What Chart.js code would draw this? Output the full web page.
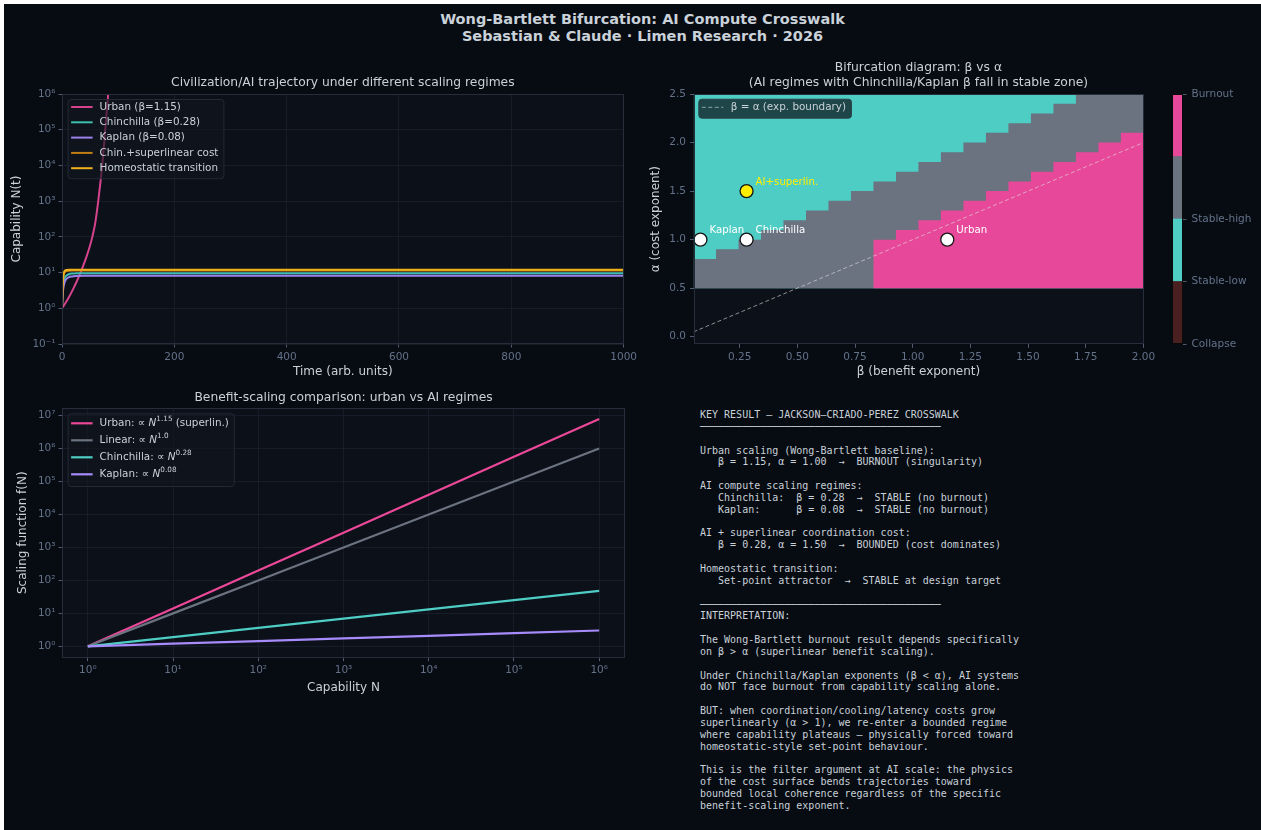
<!DOCTYPE html>
<html>
<head>
<meta charset="utf-8">
<title>Wong-Bartlett Bifurcation: AI Compute Crosswalk</title>
<script src="https://cdn.jsdelivr.net/npm/chart.js@4.4.1/dist/chart.umd.min.js"></script>
<style>
  html, body { margin: 0; padding: 0; background: #ffffff; }
  #fig { position: absolute; left: 4px; top: 4px; right: 0; bottom: 0; width: 1257px; height: 826px; background: #070b12; }
  .box { position: absolute; }
  #suptitle {
    position: absolute; left: 342.5px; top: 11px; width: 600px;
    text-align: center; font: bold 14.5px/17px "DejaVu Sans", sans-serif; color: #c9d1d9;
  }
  #notes {
    position: absolute; left: 700px; top: 409px; margin: 0;
    font: 10px/11.85px "DejaVu Sans Mono", monospace; color: #c9d1d9;
  }
</style>
</head>
<body>
<div id="fig"></div>
<div id="suptitle">Wong-Bartlett Bifurcation: AI Compute Crosswalk<br>Sebastian &amp; Claude · Limen Research · 2026</div>

<div class="box" style="left:0;top:60px;width:640px;height:330px"><canvas id="trajChart"></canvas></div>
<div class="box" style="left:640px;top:55px;width:520px;height:335px"><canvas id="bifChart"></canvas></div>
<div class="box" style="left:1160px;top:55px;width:101px;height:335px"><canvas id="cbarChart"></canvas></div>
<div class="box" style="left:0;top:380px;width:640px;height:324px"><canvas id="scaleChart"></canvas></div>

<pre id="notes">KEY RESULT — JACKSON—CRIADO-PEREZ CROSSWALK
────────────────────────────────────────

Urban scaling (Wong-Bartlett baseline):
   β = 1.15, α = 1.00  →  BURNOUT (singularity)

AI compute scaling regimes:
   Chinchilla:  β = 0.28  →  STABLE (no burnout)
   Kaplan:      β = 0.08  →  STABLE (no burnout)

AI + superlinear coordination cost:
   β = 0.28, α = 1.50  →  BOUNDED (cost dominates)

Homeostatic transition:
   Set-point attractor  →  STABLE at design target

────────────────────────────────────────
INTERPRETATION:

The Wong-Bartlett burnout result depends specifically
on β &gt; α (superlinear benefit scaling).

Under Chinchilla/Kaplan exponents (β &lt; α), AI systems
do NOT face burnout from capability scaling alone.

BUT: when coordination/cooling/latency costs grow
superlinearly (α &gt; 1), we re-enter a bounded regime
where capability plateaus — physically forced toward
homeostatic-style set-point behaviour.

This is the filter argument at AI scale: the physics
of the cost surface bends trajectories toward
bounded local coherence regardless of the specific
benefit-scaling exponent.</pre>

<script>
// ---------- trajectories N(t) ----------
const urbanT = [0, 10, 20, 27, 33, 38, 44, 49, 54, 59, 64.5, 68, 71.6, 74.5, 77, 79.5, 82.3, 84];
const urbanN = [1, 1.76, 3.5, 6.0, 10, 16, 29, 51, 100, 234, 1000, 2950, 10000, 33000, 100000, 300000, 1000000, 2200000];
const fastT = [0, 1, 2, 3, 5, 8, 12, 18, 25, 40, 100, 1000];
const chinchillaN = [1, 2.8, 4.4, 5.6, 7.2, 8.3, 9.0, 9.4, 9.5, 9.6, 9.6, 9.6];
const kaplanN = [1, 2.2, 3.3, 4.2, 5.6, 6.7, 7.4, 7.8, 8.0, 8.1, 8.1, 8.1];
const chinSuperN = [1, 4.0, 6.8, 8.6, 10.3, 11.0, 11.3, 11.4, 11.4, 11.4, 11.4, 11.4];
const homeoN = [1, 4.5, 7.5, 9.5, 11.2, 11.8, 12.0, 12.0, 12.0, 12.0, 12.0, 12.0];
const timeTicks = [0, 200, 400, 600, 800, 1000];
const trajTicks = [0.1, 1, 10, 100, 1000, 10000, 100000, 1000000];

// ---------- bifurcation grid (β columns, α rows 0.5 .. 2.5) ----------
const betaEdges = [0.05, 0.1475, 0.245, 0.3425, 0.44, 0.5375, 0.635, 0.7325, 0.83, 0.9275, 1.025,
                   1.1225, 1.22, 1.3175, 1.415, 1.5125, 1.61, 1.7075, 1.805, 1.9025, 2.0];
const alphaFloor = 0.5;
const alphaCeil = 2.5;
// top of the burnout band and of the stable-high band in each β column
const burnoutTop = [0.5, 0.5, 0.5, 0.5, 0.5, 0.5, 0.5, 0.5, 1.0, 1.1, 1.2, 1.3, 1.4, 1.5, 1.6, 1.7, 1.8, 1.9, 2.0, 2.1];
const stableHighTop = [0.8, 0.9, 1.0, 1.1, 1.2, 1.3, 1.4, 1.5, 1.6, 1.7, 1.8, 1.9, 2.0, 2.1, 2.2, 2.3, 2.4, 2.5, 2.5, 2.5];
const boundaryBeta = [0.05, 2.0];
const regimeNames = ['Kaplan', 'Chinchilla', 'Urban', 'AI+superlin.'];
const regimeBeta = [0.08, 0.28, 1.15, 0.28];
const regimeAlpha = [1.0, 1.0, 1.0, 1.5];
const betaTicks = [0.25, 0.5, 0.75, 1.0, 1.25, 1.5, 1.75, 2.0];
const alphaTicks = [0.0, 0.5, 1.0, 1.5, 2.0, 2.5];
const phaseLabels = ['Collapse', 'Stable-low', 'Stable-high', 'Burnout'];
const phaseTicks = [0, 1, 2, 4];

// ---------- benefit scaling f(N) ----------
const capN = [1, 10, 100, 1000, 10000, 100000, 1000000];
const urbanF = [1, 14.1, 199.5, 2818, 39811, 562341, 7943282];
const linearF = [1, 10, 100, 1000, 10000, 100000, 1000000];
const chinchillaF = [1, 1.905, 3.631, 6.918, 13.18, 25.12, 47.86];
const kaplanF = [1, 1.202, 1.445, 1.738, 2.089, 2.512, 3.020];
const capTicks = [1, 10, 100, 1000, 10000, 100000, 1000000];
const fTicks = [1, 10, 100, 1000, 10000, 100000, 1000000, 10000000];

// ---------- theme ----------
const faceColor = '#0c1019';
const gridColor = '#1a212c';
const spineColor = '#262e3b';
const tickColor = '#637289';
const labelColor = '#c9d1d9';
const pink = '#e8489a';
const slate = '#6b7280';
const teal = '#4ecdc4';
const violet = '#a78bfa';
const maroon = '#4a1f1f';

Chart.defaults.font.family = '"DejaVu Sans", sans-serif';
Chart.defaults.font.size = 10.5;
Chart.defaults.color = tickColor;
Chart.defaults.animation = false;
Chart.defaults.events = [];
Chart.defaults.maintainAspectRatio = false;
Chart.defaults.plugins.legend.display = false;
Chart.defaults.plugins.tooltip.enabled = false;

const SUP = {'-': '⁻', '0': '⁰', '1': '¹', '2': '²', '3': '³', '4': '⁴', '5': '⁵', '6': '⁶', '7': '⁷', '8': '⁸', '9': '⁹'};
const pow10 = v => '10' + String(Math.round(Math.log10(v))).split('').map(c => SUP[c]).join('');
const pts = (xs, ys) => xs.map((x, i) => ({x, y: ys[i]}));

// axis factory: fixed box size so the plot areas line up
function axis(o) {
    return {
        type: o.type || 'linear',
        position: o.position,
        min: o.min,
        max: o.max,
        afterBuildTicks: s => { s.ticks = o.ticks.map(v => ({value: v})); },
        afterFit: s => {
            if (o.width) s.width = o.width;
            if (o.height) s.height = o.height;
        },
        ticks: {callback: o.fmt, color: tickColor, padding: o.tickPad ?? 3, autoSkip: false, maxRotation: 0},
        grid: {
            color: gridColor, lineWidth: 0.8, drawOnChartArea: o.grid !== false,
            tickColor: tickColor, tickLength: 3.5, tickWidth: 0.8
        },
        border: {display: false},
        title: {
            display: !!o.title, text: o.title, color: labelColor,
            font: {size: 12}, padding: o.titlePad || 0
        }
    };
}

// subplot title, centred over the plot area
const plotTitle = (text, top, bottom) => ({
    display: true, text, fullSize: false, color: labelColor,
    font: {size: 12.3, weight: 'normal', lineHeight: 1.22},
    padding: {top, bottom}
});

// plot face underneath, frame on top of the data
const axesFrame = {
    id: 'axesFrame',
    beforeDraw(chart, args, opts) {
        if (!opts.face) return;
        const {ctx, chartArea: a} = chart;
        ctx.save();
        ctx.fillStyle = opts.face;
        ctx.fillRect(a.left, a.top, a.width, a.height);
        ctx.restore();
    },
    afterDatasetsDraw(chart, args, opts) {
        const {ctx, chartArea: a} = chart;
        ctx.save();
        ctx.strokeStyle = opts.edge || spineColor;
        ctx.lineWidth = 1;
        ctx.strokeRect(Math.round(a.left) + 0.5, Math.round(a.top) + 0.5,
                       Math.round(a.width) - 1, Math.round(a.height) - 1);
        ctx.restore();
    }
};

// text with ^{..} superscripts and *..* italics
function richText(ctx, text, x, y, size, color, measureOnly) {
    const parts = text.split(/(\^\{[^}]*\}|\*[^*]+\*)/).filter(Boolean);
    let cx = x;
    for (const p of parts) {
        let s = p, fs = size, dy = 0, style = '';
        if (p.startsWith('^{')) { s = p.slice(2, -1); fs = size * 0.7; dy = -size * 0.4; }
        else if (p.startsWith('*')) { s = p.slice(1, -1); style = 'italic '; }
        ctx.font = `${style}${fs}px "DejaVu Sans"`;
        if (!measureOnly) {
            ctx.fillStyle = color;
            ctx.fillText(s, cx, y + dy);
        }
        cx += ctx.measureText(s).width;
    }
    return cx - x;
}

// legend box in the upper-left corner of the plot
const boxLegend = {
    id: 'boxLegend',
    afterDatasetsDraw(chart, args, o) {
        const items = chart.data.datasets.filter(d => d.label);
        if (!items.length) return;
        const {ctx, chartArea: a} = chart;
        const fs = 10.4;
        ctx.save();
        ctx.textBaseline = 'middle';
        const textW = Math.max(...items.map(d => richText(ctx, d.label, 0, 0, fs, '', true)));
        const x0 = a.left + o.dx, y0 = a.top + o.dy;
        const w = o.textX + textW + 5;
        const h = o.firstRow + (items.length - 1) * o.rowH + o.lastPad;
        ctx.beginPath();
        ctx.roundRect(x0 + 0.5, y0 + 0.5, w, h, 3);
        ctx.fillStyle = o.fill || 'rgba(17,22,31,0.62)';
        ctx.fill();
        ctx.strokeStyle = o.edge || '#222a36';
        ctx.lineWidth = 1;
        ctx.stroke();
        items.forEach((d, i) => {
            const y = y0 + o.firstRow + i * o.rowH;
            ctx.beginPath();
            ctx.setLineDash(d.borderDash || []);
            ctx.strokeStyle = d.borderColor;
            ctx.lineWidth = d.borderWidth;
            ctx.moveTo(x0 + 3.5, y);
            ctx.lineTo(x0 + 25, y);
            ctx.stroke();
            ctx.setLineDash([]);
            richText(ctx, d.label, x0 + o.textX, y, fs, labelColor, false);
        });
        ctx.restore();
    }
};

// names written next to the regime markers
const pointNotes = {
    id: 'pointNotes',
    afterDatasetsDraw(chart) {
        const {ctx} = chart;
        chart.data.datasets.forEach((ds, i) => {
            if (!ds.notes) return;
            ctx.save();
            ctx.font = '10.2px "DejaVu Sans"';
            ctx.textBaseline = 'middle';
            chart.getDatasetMeta(i).data.forEach((p, j) => {
                ctx.fillStyle = ds.noteColors[j];
                ctx.fillText(ds.notes[j], p.x + 9, p.y - 9);
            });
            ctx.restore();
        });
    }
};

// -----------------------------
// Trajectories N(t)
// -----------------------------
const trajLine = (label, xs, ys, color, order) => ({
    label, data: pts(xs, ys), borderColor: color, borderWidth: 2,
    pointRadius: 0, cubicInterpolationMode: 'monotone', fill: false, order
});

new Chart(document.getElementById('trajChart'), {
    type: 'line',
    data: {
        datasets: [
            trajLine('Urban (β=1.15)', urbanT, urbanN, '#d6438c', 5),
            trajLine('Chinchilla (β=0.28)', fastT, chinchillaN, '#3fbfb0', 4),
            trajLine('Kaplan (β=0.08)', fastT, kaplanN, '#9b82ea', 3),
            trajLine('Chin.+superlinear cost', fastT, chinSuperN, '#c47f12', 2),
            trajLine('Homeostatic transition', fastT, homeoN, '#f0b21c', 1)
        ]
    },
    plugins: [axesFrame, boxLegend],
    options: {
        layout: {padding: {right: 15}},
        scales: {
            x: axis({min: 0, max: 1000, ticks: timeTicks, fmt: v => String(v), height: 46,
                     title: 'Time (arb. units)', titlePad: {bottom: 10.8}}),
            y: axis({type: 'logarithmic', min: 0.1, max: 1000000, ticks: trajTicks, fmt: pow10, width: 62,
                     title: 'Capability N(t)', titlePad: {top: 9.8}})
        },
        plugins: {
            title: plotTitle('Civilization/AI trajectory under different scaling regimes', 15.5, 3.5),
            axesFrame: {face: faceColor},
            boxLegend: {dx: 5.6, dy: 5, firstRow: 8, rowH: 15.3, lastPad: 10, textX: 32}
        }
    }
});

// -----------------------------
// Bifurcation diagram β vs α
// -----------------------------
const band = (tops, color) => ({
    data: pts(betaEdges, tops.concat(tops[tops.length - 1])),
    stepped: 'before', borderWidth: 0, pointRadius: 0,
    backgroundColor: color, fill: {value: alphaFloor}
});

new Chart(document.getElementById('bifChart'), {
    type: 'line',
    data: {
        datasets: [
            {
                data: pts(regimeBeta, regimeAlpha), showLine: false,
                pointRadius: 6.5, pointBorderWidth: 1.3, pointBorderColor: '#151515',
                pointBackgroundColor: ['#ffffff', '#ffffff', '#ffffff', '#ffee00'],
                notes: regimeNames, noteColors: ['#ffffff', '#ffffff', '#ffffff', '#ffee00']
            },
            {
                label: 'β = α (exp. boundary)', data: pts(boundaryBeta, boundaryBeta),
                borderColor: 'rgba(225,225,225,0.6)', borderWidth: 1, borderDash: [4, 2.5],
                pointRadius: 0, fill: false
            },
            band(burnoutTop, pink),
            band(stableHighTop, slate),
            band(betaEdges.slice(0, -1).map(() => alphaCeil), teal)
        ]
    },
    plugins: [axesFrame, boxLegend, pointNotes],
    options: {
        layout: {padding: {right: 16.6}},
        scales: {
            x: axis({min: 0.05, max: 2.0, ticks: betaTicks, fmt: v => v.toFixed(2), height: 45.7, grid: false,
                     tickPad: 3, title: 'β (benefit exponent)', titlePad: {bottom: 10.8}}),
            y: axis({min: -0.078, max: 2.5, ticks: alphaTicks, fmt: v => v.toFixed(1), width: 53.5, grid: false,
                     tickPad: 4, title: 'α (cost exponent)', titlePad: {top: 8.6}})
        },
        plugins: {
            title: plotTitle(['Bifurcation diagram: β vs α',
                              '(AI regimes with Chinchilla/Kaplan β fall in stable zone)'], 5.5, 3.5),
            axesFrame: {face: faceColor},
            boxLegend: {dx: 4.8, dy: 4.7, firstRow: 8.6, rowH: 15, lastPad: 10.4, textX: 32.4,
                        fill: 'rgba(12,16,24,0.72)', edge: 'rgba(40,60,66,0.9)'}
        }
    }
});

// -----------------------------
// Phase colour bar
// -----------------------------
const phaseColors = [maroon, teal, slate, pink];
new Chart(document.getElementById('cbarChart'), {
    type: 'bar',
    data: {
        labels: [''],
        datasets: phaseLabels.map((name, i) => ({
            data: [1], backgroundColor: phaseColors[i], borderWidth: 0,
            barPercentage: 1, categoryPercentage: 1
        }))
    },
    plugins: [axesFrame],
    options: {
        layout: {padding: {left: 12, top: 39, bottom: 46}},
        scales: {
            x: {display: false, stacked: true},
            y: Object.assign(axis({position: 'right', min: 0, max: 4, ticks: phaseTicks, width: 78, grid: false,
                                   tickPad: 5, fmt: v => phaseLabels[phaseTicks.indexOf(v)]}), {stacked: true})
        },
        plugins: {axesFrame: {edge: '#0a0a0a'}}
    }
});

// -----------------------------
// Benefit-scaling comparison f(N)
// -----------------------------
const powLine = (label, ys, color, order) => ({
    label, data: pts(capN, ys), borderColor: color, borderWidth: 2.2,
    pointRadius: 0, fill: false, order
});

new Chart(document.getElementById('scaleChart'), {
    type: 'line',
    data: {
        datasets: [
            powLine('Urban: ∝ *N*^{1.15} (superlin.)', urbanF, '#ec4899', 4),
            powLine('Linear: ∝ *N*^{1.0}', linearF, slate, 3),
            powLine('Chinchilla: ∝ *N*^{0.28}', chinchillaF, teal, 2),
            powLine('Kaplan: ∝ *N*^{0.08}', kaplanF, violet, 1)
        ]
    },
    plugins: [axesFrame, boxLegend],
    options: {
        layout: {padding: {right: 15}},
        scales: {
            x: axis({type: 'logarithmic', min: 0.4977, max: 2010000, ticks: capTicks, fmt: pow10, height: 46.3,
                     title: 'Capability N', titlePad: {bottom: 8.5}}),
            y: axis({type: 'logarithmic', min: 0.452, max: 17400000, ticks: fTicks, fmt: pow10, width: 62,
                     title: 'Scaling function f(N)', titlePad: {top: 16.1}})
        },
        plugins: {
            title: plotTitle('Benefit-scaling comparison: urban vs AI regimes', 10.2, 2.5),
            axesFrame: {face: faceColor},
            boxLegend: {dx: 5.6, dy: 5.6, firstRow: 10, rowH: 17, lastPad: 11.7, textX: 32}
        }
    }
});
</script>
</body>
</html>
